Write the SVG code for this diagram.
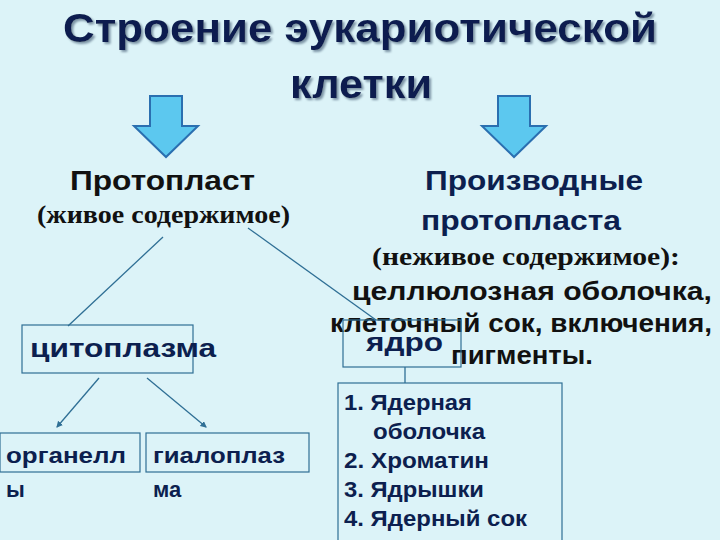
<svg xmlns="http://www.w3.org/2000/svg" width="720" height="540" viewBox="0 0 720 540">
<defs>
<style>
.t{font-family:"Liberation Sans",Arial,sans-serif;font-weight:bold;fill:#0c1f4f}
.k{font-family:"Liberation Sans",Arial,sans-serif;font-weight:bold;fill:#111}
.s{font-family:"Liberation Serif","Times New Roman",serif;font-weight:bold;fill:#111}
.box{fill:none;stroke:#2f6f95;stroke-width:1.2}
.ln{stroke:#2f6f95;stroke-width:1.3;fill:none}
.arr{fill:#5cc8ef;stroke:#2a6fb0;stroke-width:2}
</style>
<filter id="sh" x="-5%" y="-20%" width="110%" height="140%"><feDropShadow dx="2" dy="2" stdDeviation="0.8" flood-color="#7d94a6"/></filter>
<marker id="m" viewBox="0 0 6 6" refX="5" refY="3" markerWidth="5" markerHeight="5" orient="auto"><path d="M0,0L6,3L0,6z" fill="#2f6f95"/></marker>
</defs>
<rect width="720" height="540" fill="#dcf3f8"/>
<g id="title" filter="url(#sh)">
<text class="t" x="360" y="42" text-anchor="middle" font-size="40" textLength="594" lengthAdjust="spacingAndGlyphs">Строение эукариотической</text>
<text class="t" x="361" y="98" text-anchor="middle" font-size="40" textLength="142" lengthAdjust="spacingAndGlyphs">клетки</text>
</g>
<g id="arrows">
<path class="arr" d="M150,96H182V126H198L166,157L134,126H150Z"/>
<path class="arr" d="M498,96H530V126H546L514,157L482,126H498Z"/>
</g>
<g id="protoplast">
<text class="k" x="70" y="190" font-size="27" textLength="185" lengthAdjust="spacingAndGlyphs">Протопласт</text>
<text class="s" x="37" y="223" font-size="25" textLength="253" lengthAdjust="spacingAndGlyphs">(живое содержимое)</text>
</g>
<g id="derivatives">
<text class="t" x="425" y="190" font-size="27" textLength="218" lengthAdjust="spacingAndGlyphs">Производные</text>
<text class="t" x="421" y="230" font-size="27" textLength="200" lengthAdjust="spacingAndGlyphs">протопласта</text>
<text class="s" x="372" y="265" font-size="25" textLength="308" lengthAdjust="spacingAndGlyphs">(неживое содержимое):</text>
<text class="k" x="352" y="300" font-size="25" textLength="360" lengthAdjust="spacingAndGlyphs">целлюлозная оболочка,</text>
<text class="k" x="330" y="332" font-size="25" textLength="382" lengthAdjust="spacingAndGlyphs">клеточный сок, включения,</text>
<text class="k" x="451" y="364" font-size="25" textLength="142" lengthAdjust="spacingAndGlyphs">пигменты.</text>
</g>
<g id="connectors">
<line class="ln" x1="163" y1="237" x2="68" y2="326"/>
<line class="ln" x1="248" y1="228" x2="376" y2="320"/>
<line class="ln" x1="99" y1="378" x2="57" y2="427" marker-end="url(#m)"/>
<line class="ln" x1="147" y1="378" x2="206" y2="427" marker-end="url(#m)"/>
<line class="ln" x1="405" y1="367" x2="405" y2="383"/>
</g>
<g id="nucleus">
<rect class="box" x="343" y="320" width="118" height="47"/>
<text class="t" x="366" y="351" font-size="26" textLength="77" lengthAdjust="spacingAndGlyphs">ядро</text>
</g>
<g id="cytoplasm">
<rect class="box" x="22" y="325" width="171" height="48"/>
<text class="t" x="30" y="357" font-size="26" textLength="186" lengthAdjust="spacingAndGlyphs">цитоплазма</text>
</g>
<g id="organelles">
<rect class="box" x="0" y="433" width="140" height="39"/>
<text class="t" x="6" y="463" font-size="22" textLength="120" lengthAdjust="spacingAndGlyphs">органелл</text>
<text class="t" x="6" y="497" font-size="22">ы</text>
</g>
<g id="hyaloplasm">
<rect class="box" x="146" y="433" width="163" height="39"/>
<text class="t" x="153" y="463" font-size="22" textLength="132" lengthAdjust="spacingAndGlyphs">гиалоплаз</text>
<text class="t" x="153" y="497" font-size="22">ма</text>
</g>
<g id="list">
<rect class="box" x="338" y="383" width="224" height="160"/>
<text class="t" x="344" y="410" font-size="22" textLength="128" lengthAdjust="spacingAndGlyphs">1. Ядерная</text>
<text class="t" x="373" y="439" font-size="22" textLength="112" lengthAdjust="spacingAndGlyphs">оболочка</text>
<text class="t" x="344" y="468" font-size="22" textLength="145" lengthAdjust="spacingAndGlyphs">2. Хроматин</text>
<text class="t" x="344" y="497" font-size="22" textLength="140" lengthAdjust="spacingAndGlyphs">3. Ядрышки</text>
<text class="t" x="344" y="526" font-size="22" textLength="183" lengthAdjust="spacingAndGlyphs">4. Ядерный сок</text>
</g>
</svg>
